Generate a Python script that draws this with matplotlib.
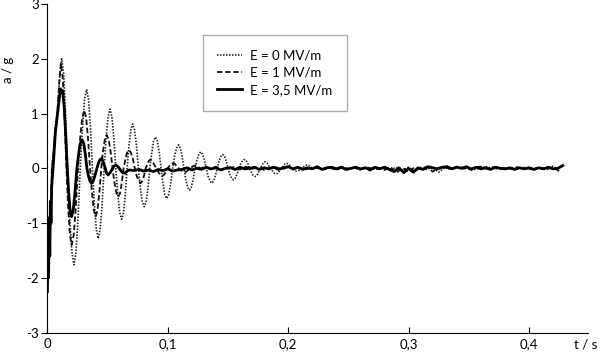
import matplotlib.pyplot as plt
import numpy as np

plt.rcParams['font.family'] = ['Lato', 'DejaVu Sans']
plt.rcParams['font.size'] = 9.5

t0 = [0.0, 0.0006, 0.0010, 0.0015, 0.0020, 0.0026, 0.0031, 0.0036, 0.0050, 0.0066, 0.0083, 0.0100,
      0.0118, 0.0135, 0.0151, 0.0168, 0.0185, 0.0203, 0.0220, 0.0238, 0.0255, 0.0273,
      0.0291, 0.0308, 0.0326, 0.0342, 0.0358, 0.0374, 0.0390, 0.0406, 0.0422,
      0.0438, 0.0455, 0.0471, 0.0487, 0.0504, 0.0520, 0.0536, 0.0552, 0.0568,
      0.0584, 0.0601, 0.0617, 0.0632, 0.0647, 0.0662, 0.0677, 0.0693, 0.0708,
      0.0724, 0.0740, 0.0756, 0.0771, 0.0788, 0.0805, 0.0820, 0.0836, 0.0851,
      0.0867, 0.0882, 0.0898, 0.0913, 0.0929, 0.0944, 0.0960, 0.0975, 0.0991,
      0.1007, 0.1024, 0.1040, 0.1056, 0.1073, 0.1089, 0.1104, 0.1119, 0.1134,
      0.1149, 0.1165, 0.1180, 0.1195, 0.1211, 0.1226, 0.1242, 0.1258, 0.1273,
      0.1288, 0.1304, 0.1319, 0.1334, 0.1350, 0.1365, 0.1380, 0.1395, 0.1410,
      0.1425, 0.1441, 0.1456, 0.1471, 0.1486, 0.1500, 0.1515, 0.1530, 0.1545,
      0.1560, 0.1575, 0.1590, 0.1605, 0.1621, 0.1636, 0.1651, 0.1666, 0.1680,
      0.1695, 0.1710, 0.1725, 0.1739, 0.1752, 0.1766, 0.1794, 0.1808, 0.1823,
      0.1853, 0.1884, 0.1899, 0.1914, 0.1943, 0.1973, 0.1988, 0.2003, 0.2030,
      0.2057, 0.2071, 0.2085, 0.2113, 0.2141, 0.2155, 0.2170, 0.2200]
a0 = [-2.2, -1.6, -2.0, -1.1, -1.5, -0.7, -0.9, 0.0, 0.3, 0.75, 1.05, 1.6,
      2.0, 1.74, 1.0, 0.0, -0.88, -1.52, -1.76, -1.52, -0.88, 0.0,
      0.72, 1.25, 1.44, 1.25, 0.72, 0.0, -0.64, -1.11, -1.28,
      -1.11, -0.64, 0.0, 0.54, 0.94, 1.08, 0.94, 0.54, 0.0,
      -0.47, -0.81, -0.93, -0.81, -0.47, 0.0, 0.41, 0.70, 0.81,
      0.70, 0.41, 0.0, -0.35, -0.61, -0.70, -0.61, -0.35, 0.0,
      0.29, 0.50, 0.57, 0.50, 0.29, 0.0, -0.28, -0.48, -0.55,
      -0.48, -0.28, 0.0, 0.22, 0.37, 0.43, 0.37, 0.22, 0.0,
      -0.20, -0.35, -0.40, -0.35, -0.20, 0.0, 0.15, 0.26, 0.30,
      0.26, 0.15, 0.0, -0.14, -0.23, -0.27, -0.23, -0.14, 0.0,
      0.13, 0.22, 0.25, 0.22, 0.13, 0.0, -0.11, -0.18, -0.21,
      -0.18, -0.11, 0.0, 0.08, 0.14, 0.16, 0.14, 0.08, 0.0,
      -0.08, -0.13, -0.15, -0.13, -0.08, 0.0, 0.10, 0.12, 0.10,
      0.0, -0.09, -0.10, -0.09, 0.0, 0.08, 0.09, 0.08, 0.0,
      -0.05, -0.05, -0.04, 0.0, 0.05, 0.06, 0.05, 0.0]
tail0 = [0.01, -0.02, 0.02, -0.01, 0.03, -0.02, 0.01, -0.03, 0.02, 0.00,
         -0.02, 0.03, -0.01, 0.01, -0.03, 0.02, -0.06, 0.01, -0.02, 0.02,
         -0.07, 0.01, -0.02, 0.03, -0.01, 0.02, -0.02, 0.01, 0.03, -0.01,
         0.02, -0.02, 0.01, -0.01, 0.02, -0.02, 0.00, 0.01, -0.02, 0.04,
         -0.03]

# --- E = 1 MV/m (dashed)
t1 = [0.0, 0.0005, 0.0011, 0.0016, 0.0021, 0.0027, 0.0032, 0.0037, 0.0050, 0.0066, 0.0083, 0.0098,
      0.0112, 0.0127, 0.0143, 0.0158, 0.0172, 0.0187, 0.0201, 0.0219, 0.0236, 0.0254,
      0.0271, 0.0289, 0.0306, 0.0322, 0.0338, 0.0354, 0.0370, 0.0385, 0.0401,
      0.0416, 0.0432, 0.0447, 0.0462, 0.0477, 0.0492, 0.0508, 0.0525, 0.0541,
      0.0557, 0.0573, 0.0589, 0.0604, 0.0618, 0.0633, 0.0648, 0.0662, 0.0677,
      0.0693, 0.0710, 0.0726, 0.0742, 0.0759, 0.0775, 0.0789, 0.0802, 0.0816,
      0.0843, 0.0856, 0.0870, 0.0904, 0.0936, 0.0952, 0.0968, 0.0998,
      0.1028, 0.1043, 0.1058, 0.1091, 0.1123, 0.1139, 0.1155, 0.1186,
      0.1218, 0.1234, 0.1270]
a1 = [-2.1, -1.4, -1.9, -1.0, -1.3, -0.6, -0.8, 0.0, 0.25, 0.7, 1.0, 1.55,
      1.92, 1.66, 0.96, 0.0, -0.70, -1.21, -1.40, -1.21, -0.70, 0.0,
      0.53, 0.92, 1.06, 0.92, 0.53, 0.0, -0.44, -0.76, -0.88,
      -0.76, -0.44, 0.0, 0.31, 0.53, 0.61, 0.53, 0.31, 0.0,
      -0.26, -0.45, -0.52, -0.45, -0.26, 0.0, 0.17, 0.29, 0.33,
      0.29, 0.17, 0.0, -0.14, -0.23, -0.27, -0.23, -0.14, 0.0,
      0.14, 0.16, 0.14, 0.0, -0.12, -0.14, -0.12, 0.0,
      0.08, 0.09, 0.08, 0.0, -0.06, -0.07, -0.06, 0.0,
      0.05, 0.05, 0.0]
tail1 = [0.02, -0.01, 0.03, -0.02, 0.01, 0.02, -0.02, 0.03, -0.01, 0.02,
         -0.03, 0.01, 0.02, -0.02, 0.03, -0.01, 0.01, -0.02, 0.02, 0.00,
         -0.02, 0.01, -0.03, 0.02, -0.01, 0.01, -0.02, 0.02, -0.01, 0.01,
         -0.03, 0.02, -0.08, 0.01, -0.07, 0.02, -0.02, 0.03, -0.06, 0.01,
         0.02, -0.01, 0.03, 0.01, -0.02, 0.02, 0.03, -0.01, 0.02, -0.02,
         0.01, -0.01, 0.02, -0.01, 0.01, -0.02, 0.01, -0.01, 0.02, -0.05]

# --- E = 3,5 MV/m (solid)
t2 = [0.0, 0.0005, 0.0010, 0.0015, 0.0020, 0.0025, 0.0030, 0.0035, 0.0050, 0.0066, 0.0082, 0.0100,
      0.0108, 0.0118, 0.0126, 0.0140, 0.0152, 0.0165, 0.0177, 0.0189, 0.0201,
      0.0215, 0.0230, 0.0245, 0.0260, 0.0274, 0.0289, 0.0302, 0.0315, 0.0328,
      0.0341, 0.0354, 0.0367, 0.0381, 0.0395, 0.0409, 0.0423, 0.0437, 0.0451,
      0.0465, 0.0478, 0.0492, 0.0505, 0.0521, 0.0537, 0.0553, 0.0569,
      0.0587, 0.0606, 0.0625, 0.0644, 0.0662, 0.0680]
a2 = [-2.25, -1.2, -2.0, -0.9, -1.6, -0.6, -1.0, -0.35, 0.1, 0.65, 0.95, 1.3,
      1.45, 1.38, 1.42, 1.1, 0.6, 0.0, -0.45, -0.78, -0.88,
      -0.75, -0.42, 0.0, 0.27, 0.46, 0.52, 0.45, 0.26, 0.0,
      -0.14, -0.24, -0.27, -0.23, -0.13, -0.02, 0.09, 0.16, 0.18,
      0.10, 0.02, -0.09, -0.12, -0.08, -0.02, 0.04, 0.06,
      0.03, -0.03, -0.08, -0.09, -0.05, -0.03]
tail2 = [-0.04, -0.02, -0.05, -0.03, -0.06, -0.02, -0.04, -0.01, -0.05, -0.03,
         -0.02, 0.01, -0.03, 0.00, -0.02, 0.02, -0.01, 0.01, -0.03, 0.00,
         0.01, -0.02, 0.02, -0.01, 0.00, 0.02, -0.02, 0.01, -0.01, 0.02,
         -0.02, 0.01, 0.03, -0.01, 0.02, -0.02, 0.01, -0.01, 0.03, -0.02,
         0.01, 0.02, -0.01, 0.02, -0.02, 0.00, 0.02, -0.01, 0.01, -0.03,
         0.02, -0.01, 0.02, -0.02, -0.06, 0.01, -0.08, 0.00, -0.07, 0.01,
         -0.02, 0.03, 0.01, -0.01, 0.02, 0.03, -0.01, 0.02, 0.00, 0.03,
         -0.02, 0.02, -0.01, 0.01, -0.02, 0.02, 0.00, -0.01, 0.01, -0.02,
         0.01, -0.01, 0.01, -0.02, 0.01, -0.01, 0.02, -0.01, 0.00, 0.05]

labels = ['E = 0 MV/m', 'E = 1 MV/m', 'E = 3,5 MV/m']
x_ticks = [0, 0.1, 0.2, 0.3, 0.4]
x_ticklabels = ['0', '0,1', '0,2', '0,3', '0,4']
y_ticks = [-3, -2, -1, 0, 1, 2, 3]


def series(t, a, tail, t_start, step):
    tt = np.concatenate([t, t_start + step * np.arange(len(tail))])
    aa = np.concatenate([a, tail])
    return tt, aa


x0, y0 = series(t0, a0, tail0, 0.225, 0.005)
x1, y1 = series(t1, a1, tail1, 0.130, 0.005)
x2, y2 = series(t2, a2, tail2, 0.072, 0.004)

fig = plt.figure(figsize=(6, 3.54), dpi=100)
ax = fig.add_axes([0.079, 0.060, 0.901, 0.929])

ax.plot(x0, y0, color='#222222', lw=1.2, ls=(0, (0.9, 0.9)), label=labels[0])
ax.plot(x1, y1, color='#111111', lw=1.3, ls=(0, (3, 1.5)), label=labels[1])
ax.plot(x2, y2, color='black', lw=2.0, ls='-', label=labels[2])

ax.set_xlim(0, 0.449)
ax.set_ylim(-3, 3)
ax.set_xticks(x_ticks)
ax.set_xticklabels(x_ticklabels)
ax.set_yticks(y_ticks)
ax.set_yticklabels([str(v) for v in y_ticks])
ax.spines['top'].set_visible(False)
ax.spines['right'].set_visible(False)
ax.tick_params(axis='x', direction='in', length=4, pad=4)
ax.tick_params(axis='y', direction='out', length=4, pad=2)

ax.set_ylabel('a / g')
ax.yaxis.set_label_coords(-0.062, 0.80)
fig.text(0.996, 0.027, 't / s', ha='right', va='center')

leg = ax.legend(loc='upper left', bbox_to_anchor=(0.338, 0.901), bbox_transform=fig.transFigure,
                fancybox=False, borderpad=1.1, handlelength=1.9, labelspacing=0.4,
                handletextpad=0.6, borderaxespad=0)
leg.get_frame().set_edgecolor('#999999')
leg.get_frame().set_linewidth(1.0)

fig.savefig('out.png')
